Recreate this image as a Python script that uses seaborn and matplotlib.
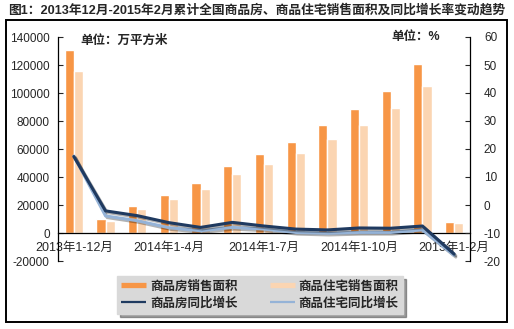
import numpy as np
import pandas as pd
import matplotlib
matplotlib.use('Agg')
import matplotlib.pyplot as plt
import seaborn as sns
from matplotlib.patches import Rectangle
from matplotlib.lines import Line2D
import matplotlib.patheffects as pe

categories = ['2013年1-12月', '2014年1-2月', '2014年1-3月', '2014年1-4月', '2014年1-5月',
              '2014年1-6月', '2014年1-7月', '2014年1-8月', '2014年1-9月', '2014年1-10月',
              '2014年1-11月', '2014年1-12月', '2015年1-2月']
house_area = [130700, 10000, 19500, 27100, 35700, 47900, 56400, 65200, 77100, 88600, 101400, 120700, 8100]
resid_area = [115700, 8800, 17100, 24300, 31400, 42100, 49300, 57200, 67100, 77100, 89300, 105000, 7400]
house_growth = [17.3, -2.1, -3.8, -6.3, -8.0, -6.2, -7.5, -8.6, -8.9, -8.2, -8.3, -7.5, -17.5]
resid_growth = [17.5, -3.9, -5.6, -8.1, -9.2, -8.0, -8.6, -9.8, -10.1, -9.8, -9.8, -8.9, -18.0]
tick_labels = ['2013年1-12月', '2014年1-4月', '2014年1-7月', '2014年1-10月', '2015年1-2月']
tick_idx = [0, 3, 6, 9, 12]
series_bar = ['商品房销售面积', '商品住宅销售面积']
series_line = ['商品房同比增长', '商品住宅同比增长']
title = '图1：2013年12月-2015年2月累计全国商品房、商品住宅销售面积及同比增长率变动趋势'

sns.set_style('white')
plt.rcParams['font.family'] = ['Liberation Sans', 'Noto Sans CJK SC', 'DejaVu Sans']
plt.rcParams['axes.unicode_minus'] = False

C_DARK = '#F79646'
C_LIGHT = '#FBD5B2'
L_DARK = '#1F3A60'
L_LIGHT = '#95B3D7'

bars = pd.DataFrame({
    'cat': categories * 2,
    'value': house_area + resid_area,
    'series': [series_bar[0]] * len(categories) + [series_bar[1]] * len(categories),
})
idx = list(range(len(categories)))
lines = pd.DataFrame({
    'idx': idx * 2,
    'value': house_growth + resid_growth,
    'series': [series_line[0]] * len(categories) + [series_line[1]] * len(categories),
})

W, H = 514, 329
fig = plt.figure(figsize=(W / 100, H / 100), dpi=100)
ax = fig.add_axes([58 / W, 1 - 261 / H, (470 - 58) / W, (261 - 37) / H])
ax2 = ax.twinx()

sns.barplot(data=bars, x='cat', y='value', hue='series', order=categories,
            palette=[C_DARK, C_LIGHT], width=0.58, gap=0, ax=ax, legend=False,
            saturation=1)
sns.lineplot(data=lines, x='idx', y='value', hue='series', palette=[L_DARK, L_LIGHT],
             ax=ax2, legend=False, linewidth=2.2)
for ln in ax2.lines:
    ln.set_path_effects([pe.SimpleLineShadow(offset=(1.2, -1.2), alpha=0.3), pe.Normal()])
    ln.set_solid_joinstyle('round')
ax2.lines[1].set_zorder(1)
ax2.lines[0].set_zorder(2)

ax.set_xlim(-0.5, len(categories) - 0.5)
ax.set_ylim(-20000, 140000)
ax.set_yticks(np.arange(-20000, 140001, 20000))
ax.set_yticklabels([str(v) for v in range(-20000, 140001, 20000)])
ax2.set_ylim(-20, 60)
ax2.set_yticks(np.arange(-20, 61, 10))
ax2.set_yticklabels([str(v) for v in range(-20, 61, 10)])
ax.set_xlabel('')
ax.set_ylabel('')
ax2.set_xlabel('')
ax2.set_ylabel('')

ax.set_xticks(tick_idx)
ax.set_xticklabels(tick_labels)
ax.set_xticks(np.arange(-0.5, len(categories), 1), minor=True)
ax.tick_params(axis='x', which='major', length=0, pad=6.5, labelsize=9)
ax.tick_params(axis='x', which='minor', direction='in', length=3.5, width=0.8)
for t in ax.get_xticklabels():
    t.set_fontweight('bold')
ax.tick_params(axis='y', direction='in', length=3.5, width=0.8, labelsize=8.5, pad=6, left=True)
ax2.tick_params(axis='y', direction='in', length=3.5, width=0.8, labelsize=8.5, pad=10, right=True)

ax.spines['bottom'].set_position(('data', 0))
for s in ['top', 'right']:
    ax.spines[s].set_visible(False)
for s in ['top', 'left', 'bottom']:
    ax2.spines[s].set_visible(False)
for sp in [ax.spines['left'], ax.spines['bottom'], ax2.spines['right']]:
    sp.set_color('black')
    sp.set_linewidth(0.9)

fig.text(80 / W, 1 - 41 / H, '单位：万平方米', fontsize=9, fontweight='bold', va='center', ha='left')
fig.text(391 / W, 1 - 37 / H, '单位：%', fontsize=9, fontweight='bold', va='center', ha='left')
fig.text(8 / W, 1 - 10 / H, title, fontsize=9.2, fontweight='bold', va='center', ha='left')

handles = [
    Line2D([0], [0], color=C_DARK, lw=3.8, solid_capstyle='butt'),
    Line2D([0], [0], color=L_DARK, lw=1.6, solid_capstyle='butt'),
    Line2D([0], [0], color=C_LIGHT, lw=3.8, solid_capstyle='butt'),
    Line2D([0], [0], color=L_LIGHT, lw=1.6, solid_capstyle='butt'),
]
labels = [series_bar[0], series_line[0], series_bar[1], series_line[1]]
leg = fig.legend(handles, labels, ncol=2, loc='center',
                 bbox_to_anchor=(260 / W, 1 - 295 / H), frameon=True,
                 facecolor='#D9D9D9', edgecolor='#D9D9D9', fancybox=False, shadow=True,
                 prop={'size': 9, 'weight': 'bold'}, handlelength=2.0, handletextpad=0.3,
                 columnspacing=2.6, labelspacing=0.35, borderpad=0.35)
leg.get_frame().set_alpha(1)

fig.add_artist(Rectangle((6 / W, 1 - 322 / H), (507 - 6) / W, (322 - 20) / H,
                         transform=fig.transFigure, fill=False, lw=1.4, ec='black'))

fig.savefig('out.png', dpi=100, facecolor='white')
